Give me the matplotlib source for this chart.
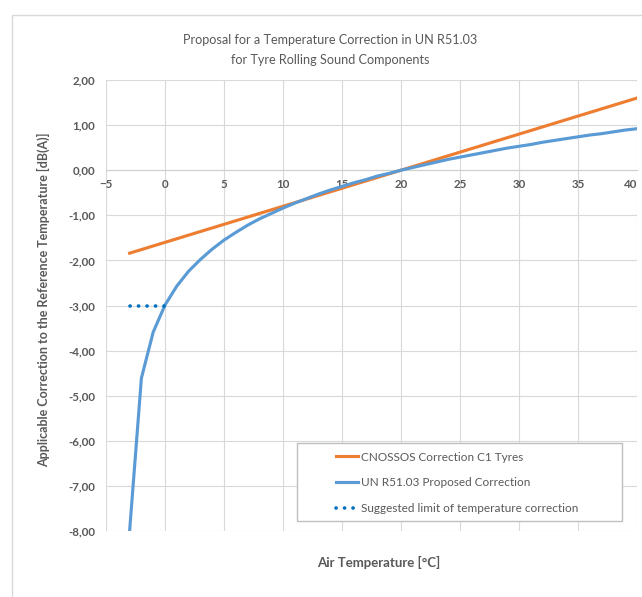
from matplotlib import pyplot as plt
from matplotlib.patches import Rectangle

plt.rcParams['font.family'] = ['Lato', 'DejaVu Sans']

# CNOSSOS correction C1 tyres (straight line)
cnossos_temp = [-3, 0, 5, 10, 15, 20, 25, 30, 35, 40]
cnossos_corr = [-1.84, -1.60, -1.20, -0.80, -0.40, 0.00, 0.40, 0.80, 1.20, 1.60]

# UN R51.03 proposed correction, read at every degree
un_temp = list(range(-3, 41))
un_corr = [-8.00, -4.61, -3.59, -2.99, -2.57, -2.24, -1.98, -1.75, -1.55, -1.38,
           -1.22, -1.08, -0.96, -0.84, -0.73, -0.63, -0.53, -0.44, -0.36, -0.28,
           -0.21, -0.13, -0.07, 0.00, 0.06, 0.12, 0.18, 0.24, 0.29, 0.34,
           0.39, 0.44, 0.49, 0.53, 0.57, 0.62, 0.66, 0.70, 0.74, 0.78,
           0.81, 0.85, 0.89, 0.92]

# suggested limit of temperature correction
limit_temp = [-3, 0]
limit_corr = [-3.0, -3.0]

x_ticks = [-5, 0, 5, 10, 15, 20, 25, 30, 35, 40]
y_ticks = [2, 1, 0, -1, -2, -3, -4, -5, -6, -7, -8]
y_labels = ['2,00', '1,00', '0,00', '-1,00', '-2,00', '-3,00', '-4,00',
            '-5,00', '-6,00', '-7,00', '-8,00']

grey = '#595959'

fig = plt.figure(figsize=(6.42, 5.97), dpi=100)
ax = fig.add_axes([106/642, 1-531/597, (637-106)/642, (531-80)/597])

# chart area border (left and top edges visible)
fig.patches.append(Rectangle((12/642, -0.5), 2, 0.5+1-15/597, transform=fig.transFigure,
                             fill=False, edgecolor='#d9d9d9', linewidth=1))

ax.plot(cnossos_temp, cnossos_corr, color='#ED7D31', linewidth=2.25,
        label='CNOSSOS Correction C1 Tyres', zorder=3)
ax.plot(un_temp, un_corr, color='#5B9BD5', linewidth=2.25,
        label='UN R51.03 Proposed Correction', zorder=4)
ax.plot(limit_temp, limit_corr, color='#0070C0', linewidth=2.6,
        linestyle=(0, (0.05, 2.3)), dash_capstyle='round',
        label='Suggested limit of temperature correction', zorder=5)

ax.set_xlim(-5, 40)
ax.set_ylim(-8, 2)
ax.set_xticks(x_ticks)
ax.set_yticks(y_ticks)
ax.set_yticklabels(y_labels)
ax.grid(True, color='#d9d9d9', linewidth=0.8)
ax.set_axisbelow(True)

for s in ['top', 'right', 'left']:
    ax.spines[s].set_visible(False)
ax.spines['bottom'].set_position(('data', 0))
ax.spines['bottom'].set_color('#d0d0d0')
ax.spines['bottom'].set_linewidth(0.8)

ax.tick_params(axis='both', length=0, labelsize=8.3, labelcolor=grey)
ax.tick_params(axis='y', pad=8)
ax.tick_params(axis='x', pad=6)
for lab in ax.get_xticklabels() + ax.get_yticklabels():
    lab.set_fontweight('bold')
# last x label sits on the right edge, keep it inside the picture
ax.get_xticklabels()[-1].set_ha('right')

fig.text(330/642, 1-50/597, 'Proposal for a Temperature Correction in UN R51.03\nfor Tyre Rolling Sound Components',
         ha='center', va='center', fontsize=9.1, color=grey, linespacing=1.75)

fig.text(43/642, 1-300/597, 'Applicable Correction to the Reference Temperature [dB(A)]',
         rotation=90, ha='center', va='center', fontsize=9, fontweight='bold', color=grey)
fig.text(379/642, 1-562/597, 'Air Temperature [°C]',
         ha='center', va='center', fontsize=9.5, fontweight='bold', color=grey)

# legend box
ax.add_patch(Rectangle((297/642, 1-521/597), (622-297)/642, (521-443)/597,
                       transform=fig.transFigure, facecolor='white',
                       edgecolor='#bfbfbf', linewidth=1, zorder=6, clip_on=False))
leg = ax.legend(loc='upper left', bbox_to_anchor=(325/642, 1-441/597),
                bbox_transform=fig.transFigure, frameon=False, fontsize=8.5,
                handlelength=1.9, handletextpad=0.25, labelspacing=1.25)
leg.set_zorder(10)
for t in leg.get_texts():
    t.set_color(grey)

plt.savefig('out.png', dpi=100)
